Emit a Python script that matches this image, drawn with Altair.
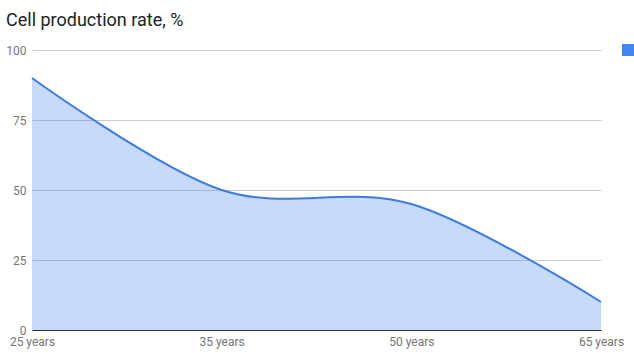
import altair as alt
import pandas as pd

ages = ["25 years", "35 years", "50 years", "65 years"]
rates = [90, 50, 45, 10]
series = ["Cell production rate"] * len(ages)

df = pd.DataFrame({"age": ages, "rate": rates, "series": series})

BLUE = "#4285f4"
LINE_BLUE = "#3f7bd9"

x_enc = alt.X(
    "age:N",
    sort=ages,
    scale=alt.Scale(type="point", padding=0),
    axis=alt.Axis(
        title=None,
        labelAngle=0,
        labelFont="Roboto",
        labelFontSize=12,
        labelColor="#757575",
        labelPadding=6,
        ticks=False,
        grid=False,
        domain=True,
        domainColor="#333333",
        domainWidth=1,
    ),
)
y_enc = alt.Y(
    "rate:Q",
    scale=alt.Scale(domain=[0, 100], nice=False),
    axis=alt.Axis(
        title=None,
        values=[0, 25, 50, 75, 100],
        labelFont="Roboto",
        labelFontSize=12,
        labelColor="#757575",
        labelPadding=6,
        ticks=False,
        domain=False,
        grid=True,
        gridColor="#cccccc",
        gridWidth=1,
    ),
)

area = alt.Chart(df).mark_area(interpolate="cardinal", fillOpacity=0.3).encode(
    x=x_enc,
    y=y_enc,
    color=alt.Color(
        "series:N",
        scale=alt.Scale(range=[BLUE]),
        legend=alt.Legend(
            title=None,
            orient="none",
            legendX=590,
            legendY=-6,
            symbolType="square",
            symbolSize=144,
            symbolFillColor=BLUE,
            symbolOpacity=1,
            symbolStrokeWidth=0,
            labelExpr="''",
            padding=0,
            symbolOffset=0,
        ),
    ),
)

line = alt.Chart(df).mark_line(
    interpolate="cardinal", strokeWidth=2, color=LINE_BLUE
).encode(x=x_enc, y=y_enc)

chart = (
    alt.layer(area, line)
    .properties(
        width=569,
        height=280,
        autosize=alt.AutoSizeParams(type="none"),
        padding={"left": 32, "top": 50, "right": 33, "bottom": 23},
        title=alt.TitleParams(
            "Cell production rate, %",
            anchor="start",
            frame="group",
            dx=-26,
            font="Roboto",
            fontSize=18,
            fontWeight="normal",
            color="#222222",
            offset=14,
        ),
    )
    .configure_view(stroke=None)
)

chart.save("out.html", embed_options={"renderer": "svg", "actions": False})
